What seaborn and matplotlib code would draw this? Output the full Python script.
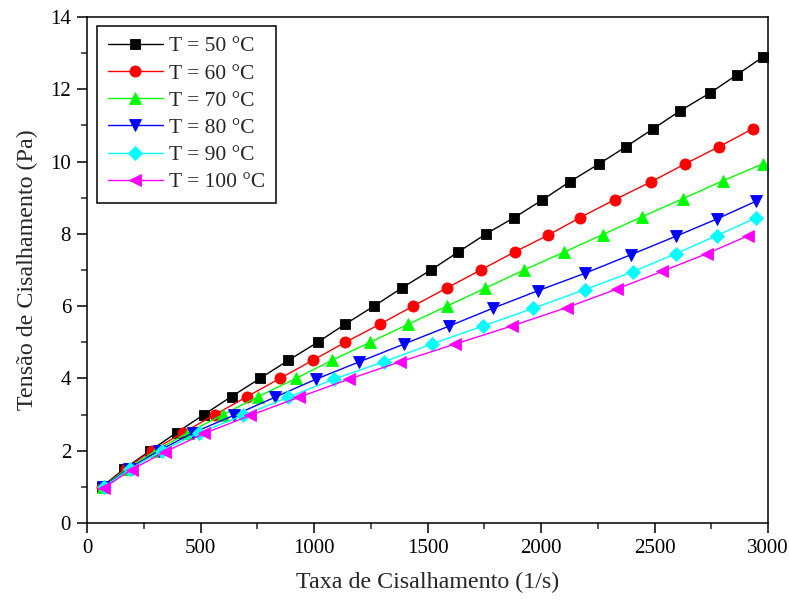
import matplotlib
matplotlib.use("Agg")
import matplotlib.pyplot as plt
import seaborn as sns
import pandas as pd
from matplotlib.ticker import MultipleLocator

labels = ["T = 50 °C", "T = 60 °C", "T = 70 °C", "T = 80 °C", "T = 90 °C", "T = 100 °C"]

x50 = [65, 164, 278, 395, 515, 637, 762, 887, 1016, 1137, 1264, 1386, 1515, 1636, 1758,
       1882, 2004, 2126, 2254, 2374, 2495, 2614, 2745, 2863, 2979]
y50 = [1.0, 1.5, 2.0, 2.5, 3.0, 3.5, 4.0, 4.5, 5.0, 5.5, 6.0, 6.5, 7.0, 7.5, 8.0,
       8.45, 8.93, 9.44, 9.93, 10.41, 10.91, 11.41, 11.9, 12.4, 12.9]

x60 = [68, 170, 285, 424, 564, 706, 850, 994, 1138, 1290, 1436, 1585, 1734, 1884, 2030,
       2172, 2326, 2485, 2633, 2784, 2933]
y60 = [1.0, 1.5, 2.0, 2.5, 3.0, 3.5, 4.0, 4.5, 5.0, 5.5, 6.0, 6.5, 7.0, 7.5, 7.96,
       8.45, 8.95, 9.44, 9.93, 10.41, 10.91]

x70 = [70, 176, 303, 444, 600, 755, 921, 1078, 1247, 1415, 1585, 1755, 1925, 2100, 2272,
       2444, 2624, 2802, 2979]
y70 = [1.0, 1.5, 2.0, 2.5, 3.0, 3.5, 4.0, 4.5, 5.0, 5.5, 6.0, 6.5, 7.0, 7.49, 7.98,
       8.47, 8.97, 9.47, 9.94]

x80 = [72, 183, 317, 468, 648, 828, 1009, 1200, 1396, 1596, 1787, 1988, 2194, 2395, 2593,
       2774, 2946]
y80 = [1.0, 1.5, 2.0, 2.5, 2.98, 3.48, 3.98, 4.46, 4.95, 5.45, 5.94, 6.43, 6.91, 7.42, 7.93,
       8.41, 8.9]

x90 = [74, 190, 330, 495, 689, 887, 1087, 1307, 1518, 1744, 1966, 2194, 2404, 2593, 2774, 2946]
y90 = [1.0, 1.5, 2.0, 2.5, 2.98, 3.48, 3.98, 4.46, 4.95, 5.45, 5.94, 6.46, 6.95, 7.45, 7.95, 8.44]

x100 = [76, 197, 344, 517, 720, 934, 1154, 1379, 1621, 1871, 2113, 2333, 2532, 2730, 2913]
y100 = [0.98, 1.48, 1.97, 2.48, 2.98, 3.48, 3.98, 4.46, 4.95, 5.45, 5.96, 6.47, 6.96, 7.45, 7.95]

xs = [x50, x60, x70, x80, x90, x100]
ys = [y50, y60, y70, y80, y90, y100]
colors = ["#000000", "#FF0000", "#00FF00", "#0000FF", "#00FFFF", "#FF00FF"]
markers = ["s", "o", "^", "v", "D", "<"]
msizes = [7.5, 8.0, 9, 9, 7.5, 9]

frames = []
for lab, x, y in zip(labels, xs, ys):
    frames.append(pd.DataFrame({"x": x, "y": y, "serie": lab}))
df = pd.concat(frames, ignore_index=True)

sns.set_style("ticks")
plt.rcParams["font.family"] = ["Liberation Serif", "DejaVu Serif"]

fig = plt.figure(figsize=(7.89, 6.04), dpi=100)
ax = fig.add_axes([87/789, 1 - 523/604, (768 - 87)/789, (523 - 17)/604])

for lab, c, m, ms in zip(labels, colors, markers, msizes):
    sub = df[df["serie"] == lab]
    sns.lineplot(data=sub, x="x", y="y", ax=ax, color=c, marker=m, markersize=ms,
                 markeredgecolor=c, markeredgewidth=0.6, linewidth=1.0, sort=False,
                 label=lab, estimator=None)

ax.set_xlim(0, 3000)
ax.set_ylim(0, 14)
ax.xaxis.set_major_locator(MultipleLocator(500))
ax.xaxis.set_minor_locator(MultipleLocator(250))
ax.yaxis.set_major_locator(MultipleLocator(2))
ax.yaxis.set_minor_locator(MultipleLocator(1))
ax.tick_params(axis="both", which="major", direction="out", length=7, width=1.1,
               pad=4.5, labelsize=15, colors="black", top=False, right=False)
ax.tick_params(axis="both", which="minor", direction="out", length=4, width=1.1,
               top=False, right=False)
for s in ax.spines.values():
    s.set_visible(True)
    s.set_linewidth(1.1)
    s.set_color("black")

ax.set_xlabel("Taxa de Cisalhamento (1/s)", fontsize=17.3, labelpad=10)
ax.set_ylabel("Tensão de Cisalhamento (Pa)", fontsize=17.3, labelpad=9)

leg = ax.legend(loc="upper left", bbox_to_anchor=(0.015, 0.983), borderaxespad=0,
                fontsize=15.5, frameon=True, fancybox=False, edgecolor="black",
                framealpha=1, handlelength=2.55, handletextpad=0.27,
                labelspacing=0.33, borderpad=0.5)
leg.get_frame().set_linewidth(1.1)

fig.savefig("out.png", dpi=100)
